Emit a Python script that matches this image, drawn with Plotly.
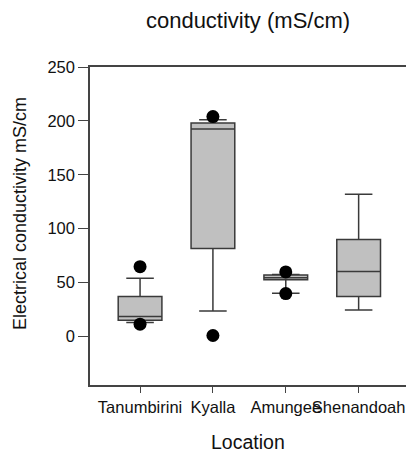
import plotly.graph_objects as go

locations = ["Tanumbirini", "Kyalla", "Amungee", "Shenandoah"]
q1 = [15, 81.7, 52.7, 37]
median = [18.5, 192.6, 54.5, 60.4]
q3 = [37, 198, 57, 90]
lower_fence = [13, 23.7, 40, 24.6]
upper_fence = [54, 201, 57.5, 132]

outlier_x = ["Tanumbirini", "Tanumbirini", "Kyalla", "Kyalla", "Amungee", "Amungee"]
outlier_y = [64.8, 11.4, 204, 0.9, 59.9, 39.8]

y_ticks = [0, 50, 100, 150, 200, 250]

fig = go.Figure()
fig.add_trace(go.Box(
    x=locations, q1=q1, median=median, q3=q3,
    lowerfence=lower_fence, upperfence=upper_fence,
    boxpoints=False, fillcolor="#c0c0c0",
    line=dict(color="#3a3a3a", width=1.5),
    width=0.6, whiskerwidth=0.63, showlegend=False,
))
fig.add_trace(go.Scatter(
    x=outlier_x, y=outlier_y, mode="markers",
    marker=dict(color="black", size=13), showlegend=False,
))

font = "Liberation Sans, Arial, sans-serif"
L, T, B, H = 90, 67, 76, 461
ph = H - T - B
pw = 406 - L
fig.update_layout(
    width=406, height=H,
    margin=dict(l=L, r=0, t=T, b=B),
    plot_bgcolor="white", paper_bgcolor="white",
    font=dict(family=font, color="#111"),
    title=dict(text="conductivity (mS/cm)", x=0.5, xref="paper", xanchor="center",
               y=1 - 20 / H, yref="container", yanchor="middle",
               font=dict(size=22, family=font, color="#111")),
    xaxis=dict(
        range=[-0.687, 3.65], showline=True, linecolor="#444", linewidth=1.5,
        mirror=True, ticks="outside", ticklen=6, tickcolor="#444", tickangle=0,
        tickfont=dict(size=16.5), showgrid=False, zeroline=False,
    ),
    yaxis=dict(
        range=[-45, 250], showline=True, linecolor="#444", linewidth=1.5,
        ticks="outside", ticklen=10, tickcolor="#444", tickvals=y_ticks,
        tickfont=dict(size=16.5), showgrid=False, zeroline=False,
    ),
    annotations=[
        dict(text="Electrical conductivity mS/cm", textangle=-90,
             xref="paper", yref="paper", x=(20 - L) / pw, y=(385 - 214) / ph,
             xanchor="center", yanchor="middle", showarrow=False,
             font=dict(size=18, family=font, color="#111")),
        dict(text="Location",
             xref="paper", yref="paper", x=(248 - L) / pw, y=-(442 - 385) / ph,
             xanchor="center", yanchor="middle", showarrow=False,
             font=dict(size=19.5, family=font, color="#111")),
    ],
)
fig.write_html("out.html")
